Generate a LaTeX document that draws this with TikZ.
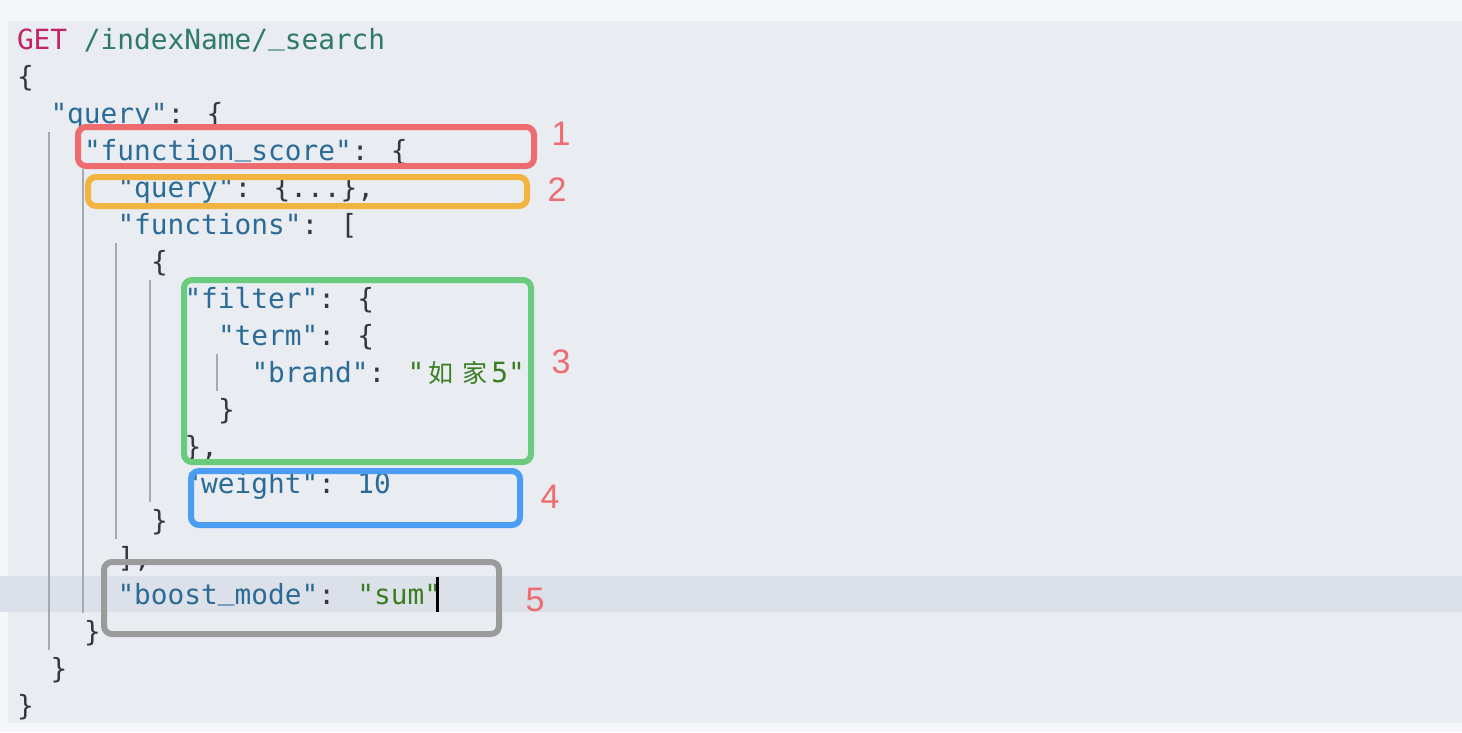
\documentclass[tikz,border=0pt]{standalone}
\usepackage{fontspec}
\usepackage{tikz}
\usetikzlibrary{positioning}
\newfontfamily\codefont{DejaVu Sans Mono}
\newfontfamily\cjkfont{Noto Sans CJK SC}
\newfontfamily\numfont{Liberation Sans}
\definecolor{page}{HTML}{F5F7FA}
\definecolor{editor}{HTML}{E9ECF1}
\definecolor{active}{HTML}{DCE0E8}
\definecolor{method}{HTML}{C3245F}
\definecolor{url}{HTML}{2F7A6B}
\definecolor{key}{HTML}{2B6B97}
\definecolor{str}{HTML}{3A7E22}
\definecolor{punct}{HTML}{343741}
\definecolor{guide}{HTML}{A3A9B7}
\definecolor{mred}{HTML}{EE6B70}
\definecolor{morange}{HTML}{F3B43F}
\definecolor{mgreen}{HTML}{6BCB7C}
\definecolor{mblue}{HTML}{4A9DF2}
\definecolor{mgray}{HTML}{9B9B9B}
\newcommand{\K}[1]{\textcolor{key}{"#1"}}
\newcommand{\Str}[1]{\textcolor{str}{"#1"}}
\newcommand{\us}{\raisebox{4.5pt}{\_}}
\newcommand{\hz}[1]{\makebox[33.5pt]{\fontsize{25}{25}\cjkfont #1}}
\tikzset{x=1pt, y=-1pt}
\tikzstyle{code} = [anchor=base west, inner sep=0pt, outer sep=0pt, text=punct, font=\fontsize{27.8}{37}\codefont]
\tikzstyle{markbox} = [line width=6pt, rounded corners=8pt]
\tikzstyle{num} = [inner sep=0pt, text=mred, font=\fontsize{34}{34}\numfont]
\tikzstyle{guideline} = [draw=guide, line width=2pt]

\begin{document}
\begin{tikzpicture}
    \useasboundingbox (0,0) rectangle (1462,732);
    \fill[page] (0,0) rectangle (1462,732);
    \fill[editor] (8,21) rectangle (1462,723);
    \fill[active] (0,576) rectangle (1462,612);

    \node [code] (get) at (17,49) {\textcolor{method}{GET} \textcolor{url}{/indexName/\us search}};
    \node [code] (brace_l) at (17,86) {\{};
    \node [code] (query_l) at (50.5,123) {\K{query}: \{};
    \node [code] (fscore) at (84,160) {\K{function\us score}: \{};
    \node [code] (fquery) at (117.5,197) {\K{query}: \{...\},};
    \node [code] (functions) at (117.5,234) {\K{functions}: [};
    \node [code] (item_l) at (151,271) {\{};
    \node [code] (filter) at (184.5,308) {\K{filter}: \{};
    \node [code] (term) at (218,345) {\K{term}: \{};
    \node [code] (brand) at (251.5,382) {\K{brand}: \textcolor{str}{"\hz{如}\hz{家}5"}};
    \node [code] (term_r) at (218,419) {\}};
    \node [code] (filter_r) at (184.5,456) {\},};
    \node [code] (weight) at (184.5,493) {\K{weight}: \textcolor{key}{10}};
    \node [code] (item_r) at (151,530) {\}};
    \node [code] (functions_r) at (117.5,567) {],};
    \node [code] (boost) at (117.5,604) {\K{boost\us mode}: \Str{sum}};
    \node [code] (fscore_r) at (84,641) {\}};
    \node [code] (query_r) at (50.5,678) {\}};
    \node [code] (brace_r) at (17,715) {\}};
    \fill [black] (436,577) rectangle (439,612);

    \draw [guideline] (49,131.5) -- (49,649.5);
    \draw [guideline] (82.5,168.5) -- (82.5,612.5);
    \draw [guideline] (116,242.5) -- (116,538.5);
    \draw [guideline] (149.5,279.5) -- (149.5,501.5);
    \draw [guideline] (216.5,353.5) -- (216.5,390.5);

    \draw [markbox, mred] (78,127) rectangle (534,166);
    \draw [markbox, morange] (88,177) rectangle (527,206);
    \draw [markbox, mgreen] (184,280) rectangle (531,462);
    \draw [markbox, mblue] (191,471) rectangle (520,525);
    \draw [markbox, mgray] (104,562) rectangle (499,634);

    \node [num] (no_1) at (561,134) {1};
    \node [num] (no_2) at (557,190) {2};
    \node [num] (no_3) at (561,362) {3};
    \node [num] (no_4) at (550,497) {4};
    \node [num] (no_5) at (535,600) {5};
\end{tikzpicture}
\end{document}
